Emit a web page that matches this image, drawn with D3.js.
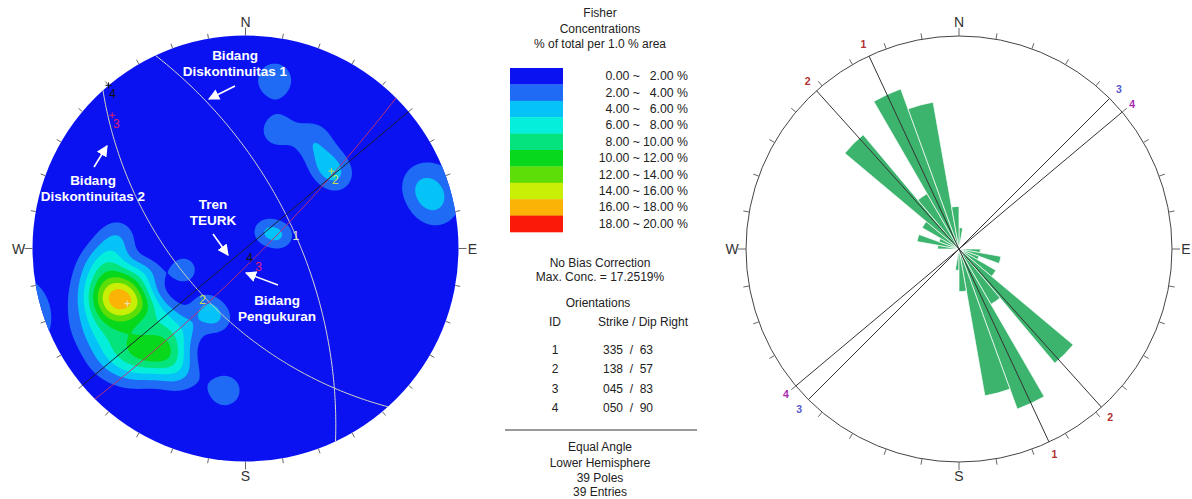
<!DOCTYPE html>
<html><head><meta charset="utf-8">
<script src="https://cdn.jsdelivr.net/npm/d3@7"></script>
<style>
body{margin:0;background:#fff}
svg{display:block}
text{font-family:"Liberation Sans",Arial,sans-serif}
</style>
</head><body>
<svg id="chart" width="1192" height="499"></svg>
<script>
// ---------------- DATA ----------------
// poles (trend, plunge in degrees), read off the stereonet
const poleTrend  = [247.0,249.7,243.5,252.5,250.2,244.2,241.2,252.4,239.5, 260.9,255.6,242.0,233.6,257.3,229.7, 266,275, 227.6,216.5,225.3,221.4,216.0, 224,207.9,231.8, 214,202,251,216.6, 50,70, 42.6,51.3, 15.0,31.5, 70,77, 9.8, 188.2];
const polePlunge = [25.6,20.2,31.2,24.2,30.1,21.1,26.5,17.3,34.0, 19.9,38.5,13.0,19.4,29.4,37.8, 24,28, 23.3,29.7,30.0,21.7,25.1, 15.5,23.4,12.1, 53,51,56,39, 76,70, 32.8,32.8, 30.5,28.0, 7,5, 12.7, 22.2];
// plane orientations (Strike / Dip Right)
const planeIds    = [1, 2, 3, 4];
const planeStrike = [335, 138, 45, 50];
const planeDip    = [63, 57, 83, 90];
const planeLabels = ["335  /  63", "138  /  57", "045  /  83", "050  /  90"];
// Fisher concentration classes
const levelLow   = ["0.00","2.00","4.00","6.00","8.00","10.00","12.00","14.00","16.00","18.00"];
const levelHigh  = ["2.00","4.00","6.00","8.00","10.00","12.00","14.00","16.00","18.00","20.00"];
const levelThresholds = [2,4,6,8,10,12,14,16,18];
const levelColors = ["#0a12f2","#1f6bf5","#05c3f7","#05eedc","#05e47c","#08d81c","#5ede08","#c9ef06","#fbb405","#fb1a0a"];
// rose diagram: strike counts per 10 degree bin (bidirectional)
const roseBinStart = [0,10,20,30,40,50,60,70,80,90,100,110,120,130,140,150,160,170];
const roseCounts   = [1,0,0,0,0,0,0,0,0,1,2,1,2,7,3,8,7,2];
const roseMax = 10;
const cardinal = ["N","E","S","W"];

// ---------------- LAYOUT ----------------
const svg = d3.select("#chart");
const L = {cx:245.5, cy:248.5, R:213};
const Rr = {cx:959, cy:249, R:213};
const rad = d => d*Math.PI/180;
const kappa = 100;          // Fisher concentration parameter
const peakPerPole = 3.1;    // % contributed by one pole at its own position

function dirVec(t, p){ // lower hemisphere unit vector (E,N,Up)
  return [Math.cos(rad(p))*Math.sin(rad(t)), Math.cos(rad(p))*Math.cos(rad(t)), -Math.sin(rad(p))];
}
const xS = d3.scaleLinear().domain([-1,1]).range([L.cx-L.R, L.cx+L.R]);
const yS = d3.scaleLinear().domain([-1,1]).range([L.cy+L.R, L.cy-L.R]);
function proj(v){ let [x,y,z]=v; if(z>0){x=-x;y=-y;z=-z;} const k=1/(1-z); return [xS(x*k), yS(y*k)]; }

// ---------------- LEFT STEREONET ----------------
const defs = svg.append("defs");
const gL = svg.append("g");
defs.append("clipPath").attr("id","clipL")
  .append("circle").attr("cx",L.cx).attr("cy",L.cy).attr("r",L.R);
gL.append("circle").attr("cx",L.cx).attr("cy",L.cy).attr("r",L.R).attr("fill",levelColors[0]);

// density grid
const poles = poleTrend.map((t,i)=>dirVec(t, polePlunge[i]));
const G = 440, x0 = L.cx-220, y0 = L.cy-220;
const vals = new Float64Array(G*G);
const N = poles.length;
for(let j=0;j<G;j++){
  for(let i=0;i<G;i++){
    const u = xS.invert(x0+i+0.5), v = yS.invert(y0+j+0.5);
    const r2 = u*u+v*v, d = 1+r2;
    const x=2*u/d, y=2*v/d, z=-(1-r2)/d;
    let s=0;
    for(let k=0;k<N;k++){
      const p=poles[k];
      const c=Math.abs(x*p[0]+y*p[1]+z*p[2]);
      s+=Math.exp(kappa*(c-1));
    }
    vals[j*G+i] = s*peakPerPole;
  }
}
const contours = d3.contours().size([G,G]).thresholds(levelThresholds)(vals);
const cpath = d3.geoPath(d3.geoIdentity().translate([x0,y0]));
gL.append("g").attr("clip-path","url(#clipL)")
  .selectAll("path").data(contours).join("path")
  .attr("d",cpath)
  .attr("fill",d=>levelColors[levelThresholds.indexOf(d.value)+1]);

// ticks
const ticks = d3.range(0,360,10);
function tickG(g, C, len){
  g.selectAll("line.t").data(ticks).join("line")
    .attr("x1",a=>C.cx+C.R*Math.sin(rad(a))).attr("y1",a=>C.cy-C.R*Math.cos(rad(a)))
    .attr("x2",a=>C.cx+(C.R+(a%90===0?8:len))*Math.sin(rad(a))).attr("y2",a=>C.cy-(C.R+(a%90===0?8:len))*Math.cos(rad(a)))
    .attr("stroke","#666").attr("stroke-width",1);
  g.selectAll("text.c").data(cardinal).join("text")
    .attr("x",(d,i)=>C.cx+(C.R+14)*Math.sin(rad(i*90)))
    .attr("y",(d,i)=>C.cy-(C.R+14)*Math.cos(rad(i*90)))
    .attr("text-anchor","middle").attr("dominant-baseline","central")
    .attr("font-size",14).attr("fill","#333").text(d=>d);
}
tickG(gL, L, 5);

// great circles
const gcColors = ["#d8d8d0","#d0d4c0","#c2306e","#1a1a2a"];
const labColors = ["#e8e8c0","#c8e050","#e02070","#111"];
const line = d3.line();
planeStrike.forEach((s,i)=>{
  const d = planeDip[i], dd = s+90;
  const S = [Math.sin(rad(s)), Math.cos(rad(s)), 0];
  const D = [Math.cos(rad(d))*Math.sin(rad(dd)), Math.cos(rad(d))*Math.cos(rad(dd)), -Math.sin(rad(d))];
  const pts = d3.range(0,181,1).map(t=>{
    const c=Math.cos(rad(t)), sn=Math.sin(rad(t));
    return proj([c*S[0]+sn*D[0], c*S[1]+sn*D[1], c*S[2]+sn*D[2]-1e-9]);
  });
  gL.append("path").attr("d",line(pts)).attr("fill","none")
    .attr("stroke",gcColors[i]).attr("stroke-width",1);
  const mid = proj(D.map((q,k)=>k===2?Math.min(q,-1e-9):q));
  gL.append("text").attr("x",mid[0]+4).attr("y",mid[1]+9)
    .attr("text-anchor","middle").attr("dominant-baseline","central")
    .attr("font-size",12).attr("fill",labColors[i]).text(planeIds[i]);
  // pole
  const pv = proj(dirVec(s-90, 90-d));
  gL.append("path").attr("d",`M${pv[0]-3},${pv[1]}h6M${pv[0]},${pv[1]-3}v6`)
    .attr("stroke",labColors[i]).attr("stroke-width",1);
  if(i>0) gL.append("text").attr("x",pv[0]+4).attr("y",pv[1]+9)
    .attr("text-anchor","middle").attr("dominant-baseline","central")
    .attr("font-size",12).attr("fill",labColors[i]).text(planeIds[i]);
});

// annotations
defs.append("marker").attr("id","ah").attr("viewBox","0 0 10 10").attr("refX",9).attr("refY",5)
  .attr("markerWidth",7).attr("markerHeight",7).attr("orient","auto-start-reverse")
  .append("path").attr("d","M0,0L10,5L0,10z").attr("fill","#fff");
const notes = [
  {lines:["Bidang","Diskontinuitas 1"], x:235, y:55, a:[235,86,209,99]},
  {lines:["Bidang","Diskontinuitas 2"], x:93, y:180, a:[94,167,107,146]},
  {lines:["Tren","TEURK"], x:213, y:204, a:[213,234,228,255]},
  {lines:["Bidang","Pengukuran"], x:277, y:300, a:[278,285,246,273]}
];
notes.forEach(n=>{
  n.lines.forEach((t,k)=>gL.append("text").attr("x",n.x).attr("y",n.y+k*16.5)
    .attr("text-anchor","middle").attr("dominant-baseline","central")
    .attr("font-size",13.5).attr("font-weight","bold").attr("fill","#fff").text(t));
  gL.append("line").attr("x1",n.a[0]).attr("y1",n.a[1]).attr("x2",n.a[2]).attr("y2",n.a[3])
    .attr("stroke","#fff").attr("stroke-width",1.6).attr("marker-end","url(#ah)");
});

// ---------------- LEGEND ----------------
const gM = svg.append("g");
["Fisher","Concentrations","% of total per 1.0 % area"].forEach((t,k)=>
  gM.append("text").attr("x",600).attr("y",13+k*15.5).attr("text-anchor","middle")
    .attr("dominant-baseline","central").attr("font-size",12).attr("fill","#222").text(t));
const rowH = 16.4, ly0 = 68;
gM.selectAll("rect.l").data(levelColors).join("rect")
  .attr("x",510).attr("y",(d,i)=>ly0+i*rowH).attr("width",53).attr("height",rowH+0.3).attr("fill",d=>d);
levelColors.forEach((c,i)=>{
  const y = ly0+i*rowH+rowH/2;
  gM.append("text").attr("x",640).attr("y",y).attr("text-anchor","end").attr("dominant-baseline","central")
    .attr("font-size",12.3).attr("fill","#222").text(levelLow[i]+" ~");
  gM.append("text").attr("x",688).attr("y",y).attr("text-anchor","end").attr("dominant-baseline","central")
    .attr("font-size",12.3).attr("fill","#222").text(levelHigh[i]+" %");
});
const txt = (x,y,t,anchor="middle")=>gM.append("text").attr("x",x).attr("y",y).attr("text-anchor",anchor)
  .attr("dominant-baseline","central").attr("font-size",12).attr("fill","#222").style("white-space","pre").text(t);
txt(600,263,"No Bias Correction");
txt(600,277,"Max. Conc. = 17.2519%");
txt(598,303,"Orientations");
txt(555,322,"ID");
txt(643,322,"Strike / Dip Right");
planeIds.forEach((id,i)=>{ txt(555,350+i*19.4,String(id)); txt(628,350+i*19.4,planeLabels[i]); });
gM.append("line").attr("x1",505).attr("x2",697).attr("y1",430).attr("y2",430).attr("stroke","#777").attr("stroke-width",1.5);
txt(600,447,"Equal Angle");
txt(600,463,"Lower Hemisphere");
txt(600,478,"39 Poles");
txt(600,492,"39 Entries");

// ---------------- ROSE ----------------
const gR = svg.append("g").attr("transform",`translate(${Rr.cx},${Rr.cy})`);
const rS = d3.scaleLinear().domain([0,roseMax]).range([0,Rr.R]);
const roseData = [];
roseBinStart.forEach((b,i)=>{ if(roseCounts[i]>0){ roseData.push({a:b,c:roseCounts[i]}); roseData.push({a:b+180,c:roseCounts[i]}); }});
const arc = d3.arc().innerRadius(0);
gR.selectAll("path.p").data(roseData).join("path")
  .attr("d",d=>arc({outerRadius:rS(d.c),startAngle:rad(d.a),endAngle:rad(d.a+10)}))
  .attr("fill","#3db46d").attr("stroke","#fff").attr("stroke-width",0.7);
const gR2 = svg.append("g");
gR2.append("circle").attr("cx",Rr.cx).attr("cy",Rr.cy).attr("r",Rr.R).attr("fill","none").attr("stroke","#444").attr("stroke-width",1);
tickG(gR2, Rr, 6);
const roseLab = ["#b03030","#b03030","#5a5ac8","#a828b0"];
planeStrike.forEach((s,i)=>{
  gR.append("line").attr("x1",rS(roseMax)*Math.sin(rad(s))).attr("y1",-rS(roseMax)*Math.cos(rad(s)))
    .attr("x2",rS(roseMax)*Math.sin(rad(s+180))).attr("y2",-rS(roseMax)*Math.cos(rad(s+180)))
    .attr("stroke","#333").attr("stroke-width",1);
  [s, s+180].forEach(a=>gR.append("text").attr("x",(Rr.R+13)*Math.sin(rad(a))).attr("y",-(Rr.R+13)*Math.cos(rad(a)))
    .attr("text-anchor","middle").attr("dominant-baseline","central").attr("font-size",10.5).attr("font-weight","bold")
    .attr("fill",roseLab[i]).text(planeIds[i]));
});
</script>
</body></html>
